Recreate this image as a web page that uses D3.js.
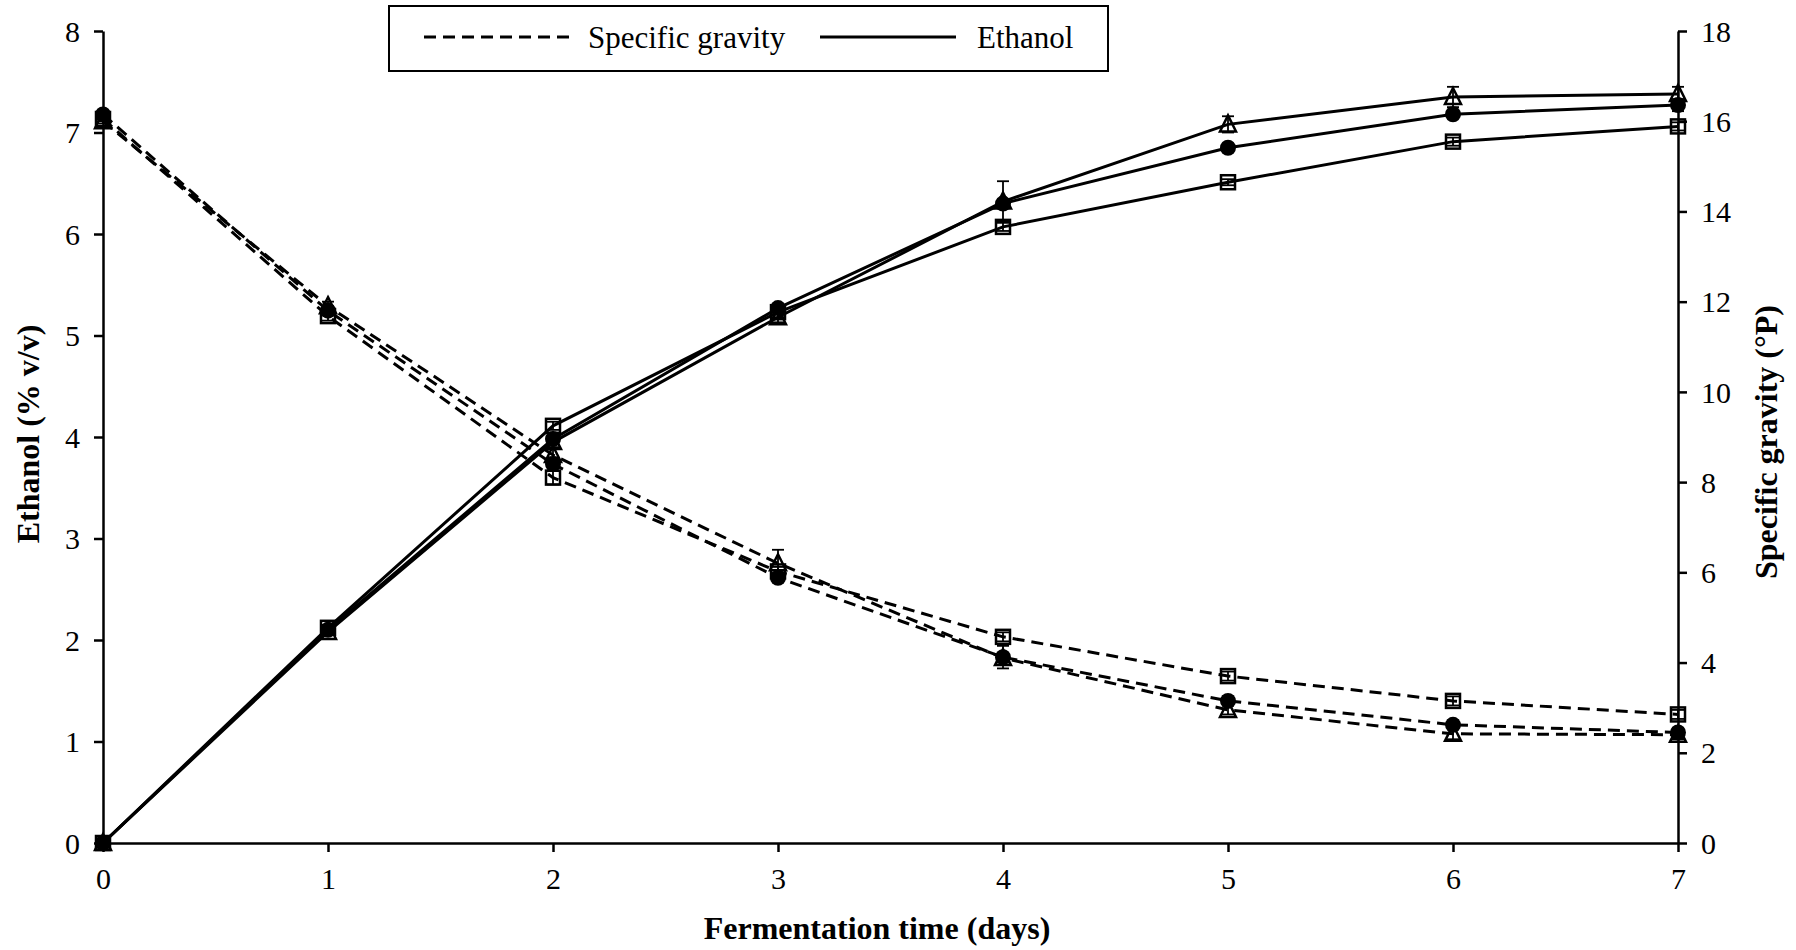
<!DOCTYPE html>
<html lang="en">
<head>
<meta charset="UTF-8">
<title>Ethanol and specific gravity during fermentation</title>
<script src="https://d3js.org/d3.v7.min.js"></script>
<style>
  body { margin: 0; background: #fff; }
  text { font-family: "Liberation Serif", "Times New Roman", serif; fill: #000; }
  .axis path, .axis line { stroke: #000; stroke-width: 2.5px; }
  .axis text { font-size: 30px; }
  .title { font-size: 32px; font-weight: bold; }
</style>
</head>
<body>
<script>
// Days of fermentation
const days = [0, 1, 2, 3, 4, 5, 6, 7];

// Ethanol (% v/v), three treatments
const ethTri  = [0, 2.08, 3.95, 5.18, 6.32, 7.08, 7.35, 7.38];
const ethCirc = [0, 2.10, 3.98, 5.27, 6.30, 6.85, 7.18, 7.27];
const ethSq   = [0, 2.12, 4.11, 5.23, 6.07, 6.51, 6.91, 7.06];
const ethTriErr  = [0, 0.03, 0.05, 0.05, 0.20, 0.08, 0.10, 0.07];
const ethCircErr = [0, 0.02, 0.03, 0.03, 0.04, 0.03, 0.03, 0.06];
const ethSqErr   = [0, 0.03, 0.04, 0.05, 0.04, 0.03, 0.04, 0.04];

// Specific gravity (°P), three treatments
const sgTri  = [16.0, 11.9, 8.6, 6.2, 4.1, 2.95, 2.42, 2.40];
const sgCirc = [16.15, 11.8, 8.4, 5.88, 4.12, 3.15, 2.62, 2.45];
const sgSq   = [16.05, 11.68, 8.1, 6.02, 4.57, 3.70, 3.15, 2.85];
const sgTriErr  = [0.05, 0.10, 0.15, 0.30, 0.10, 0.10, 0.12, 0.10];
const sgCircErr = [0.05, 0.10, 0.15, 0.10, 0.25, 0.10, 0.10, 0.10];
const sgSqErr   = [0.05, 0.10, 0.15, 0.10, 0.10, 0.10, 0.10, 0.10];

const leftTicks = [0, 1, 2, 3, 4, 5, 6, 7, 8];
const rightTicks = [0, 2, 4, 6, 8, 10, 12, 14, 16, 18];

const width = 1796, height = 950;
const margin = {top: 31, right: 118, bottom: 107, left: 103};

const svg = d3.select("body").append("svg")
  .attr("width", width)
  .attr("height", height);

const x = d3.scaleLinear().domain([0, 7]).range([margin.left, width - margin.right]);
const yL = d3.scaleLinear().domain([0, 8]).range([height - margin.bottom, margin.top]);
const yR = d3.scaleLinear().domain([0, 18]).range([height - margin.bottom, margin.top]);

// axes
svg.append("g").attr("class", "axis")
  .attr("transform", `translate(0,${height - margin.bottom})`)
  .call(d3.axisBottom(x).tickValues(days).tickFormat(d3.format("d"))
    .tickSize(9).tickSizeOuter(0).tickPadding(16));

svg.append("g").attr("class", "axis")
  .attr("transform", `translate(${margin.left},0)`)
  .call(d3.axisLeft(yL).tickValues(leftTicks).tickSize(9).tickSizeOuter(0).tickPadding(14))
  .selectAll("text").attr("dy", "0.34em");

svg.append("g").attr("class", "axis")
  .attr("transform", `translate(${width - margin.right},0)`)
  .call(d3.axisRight(yR).tickValues(rightTicks).tickSize(9).tickSizeOuter(0).tickPadding(14))
  .selectAll("text").attr("dy", "0.34em");

// axis titles
svg.append("text").attr("class", "title")
  .attr("x", 877)
  .attr("y", 939)
  .attr("text-anchor", "middle")
  .text("Fermentation time (days)");

svg.append("text").attr("class", "title")
  .attr("transform", "translate(39,434) rotate(-90)")
  .attr("text-anchor", "middle")
  .text("Ethanol (% v/v)");

svg.append("text").attr("class", "title")
  .attr("transform", "translate(1777,442) rotate(-90)")
  .attr("text-anchor", "middle")
  .text("Specific gravity (°P)");

// series definitions
const series = [
  {vals: sgTri,  err: sgTriErr,  y: yR, dash: "12,7", shape: "tri"},
  {vals: sgCirc, err: sgCircErr, y: yR, dash: "12,7", shape: "circ"},
  {vals: sgSq,   err: sgSqErr,   y: yR, dash: "12,7", shape: "sq"},
  {vals: ethTri,  err: ethTriErr,  y: yL, dash: null, shape: "tri"},
  {vals: ethCirc, err: ethCircErr, y: yL, dash: null, shape: "circ"},
  {vals: ethSq,   err: ethSqErr,   y: yL, dash: null, shape: "sq"}
];

const plot = svg.append("g");

series.forEach(s => {
  const pts = days.map((d, i) => ({d: d, v: s.vals[i], e: s.err[i]}));
  const line = d3.line().x(p => x(p.d)).y(p => s.y(p.v));

  plot.append("path")
    .datum(pts)
    .attr("d", line)
    .attr("fill", "none")
    .attr("stroke", "#000")
    .attr("stroke-width", 3)
    .attr("stroke-dasharray", s.dash);

  // error bars
  const eb = plot.append("g").attr("stroke", "#000").attr("stroke-width", 1.8);
  pts.filter(p => p.e > 0).forEach(p => {
    const cx = x(p.d), y1 = s.y(p.v + p.e), y2 = s.y(p.v - p.e);
    eb.append("line").attr("x1", cx).attr("x2", cx).attr("y1", y1).attr("y2", y2);
    eb.append("line").attr("x1", cx - 6).attr("x2", cx + 6).attr("y1", y1).attr("y2", y1);
    eb.append("line").attr("x1", cx - 6).attr("x2", cx + 6).attr("y1", y2).attr("y2", y2);
  });

  // markers
  const mk = plot.append("g");
  pts.forEach(p => {
    const cx = x(p.d), cy = s.y(p.v);
    if (s.shape === "circ") {
      mk.append("circle").attr("cx", cx).attr("cy", cy).attr("r", 8).attr("fill", "#000");
    } else if (s.shape === "sq") {
      mk.append("rect").attr("x", cx - 7).attr("y", cy - 7).attr("width", 14).attr("height", 14)
        .attr("fill", "none").attr("stroke", "#000").attr("stroke-width", 2.5);
    } else {
      mk.append("path")
        .attr("d", `M${cx},${cy - 9}L${cx + 8},${cy + 7}L${cx - 8},${cy + 7}Z`)
        .attr("fill", "none").attr("stroke", "#000").attr("stroke-width", 2.5);
    }
  });
});

// legend
const lg = svg.append("g");
lg.append("rect").attr("x", 389).attr("y", 6).attr("width", 719).attr("height", 65)
  .attr("fill", "#fff").attr("stroke", "#000").attr("stroke-width", 2);
lg.append("line").attr("x1", 424).attr("x2", 571).attr("y1", 37).attr("y2", 37)
  .attr("stroke", "#000").attr("stroke-width", 3).attr("stroke-dasharray", "12,7");
lg.append("text").attr("x", 588).attr("y", 48).style("font-size", "31px").text("Specific gravity");
lg.append("line").attr("x1", 820).attr("x2", 956).attr("y1", 37).attr("y2", 37)
  .attr("stroke", "#000").attr("stroke-width", 3);
lg.append("text").attr("x", 977).attr("y", 48).style("font-size", "31px").text("Ethanol");
</script>
</body>
</html>
